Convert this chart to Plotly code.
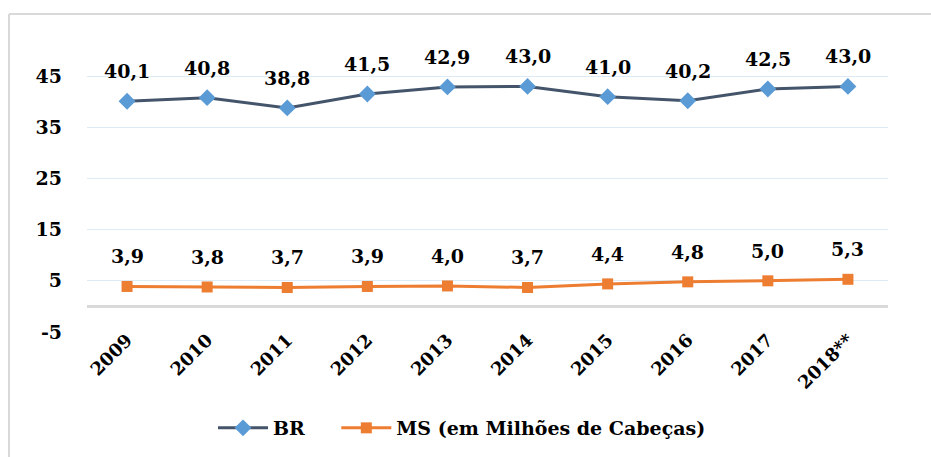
import plotly.graph_objects as go

years = ["2009", "2010", "2011", "2012", "2013", "2014", "2015", "2016", "2017", "2018**"]
br = [40.1, 40.8, 38.8, 41.5, 42.9, 43.0, 41.0, 40.2, 42.5, 43.0]
ms = [3.9, 3.8, 3.7, 3.9, 4.0, 3.7, 4.4, 4.8, 5.0, 5.3]
y_ticks = [-5, 5, 15, 25, 35, 45]

FONT = "DejaVu Serif"
W, H = 931, 457
L, R, T, B = 87, 43, 25, 125

fig = go.Figure()
fig.add_trace(go.Scatter(
    x=years, y=br, name="BR\u00a0\u00a0\u00a0\u00a0", mode="lines+markers",
    line=dict(color="#44546A", width=3),
    marker=dict(symbol="diamond", size=13, color="#5B9BD5"),
))
fig.add_trace(go.Scatter(
    x=years, y=ms, name="MS (em Milhões de Cabeças)", mode="lines+markers",
    line=dict(color="#ED7D31", width=3),
    marker=dict(symbol="square", size=11, color="#ED7D31"),
))

def fmt(v):
    return f"{v:.1f}".replace(".", ",")

annotations = []
for series in (br, ms):
    for i, v in enumerate(series):
        annotations.append(dict(
            x=i, y=v, xref="x", yref="y", text=fmt(v), showarrow=False, yshift=30,
            font=dict(family=FONT, size=19, color="#000000", weight="bold"),
        ))

pw = W - L - R
ph = H - T - B
def px_x(p):
    return (p - L) / pw
def px_y(p):
    return (H - B - p) / ph

shapes = [
    dict(type="line", xref="paper", yref="paper", x0=px_x(9), x1=px_x(940), y0=px_y(14), y1=px_y(14),
         line=dict(color="#D9D9D9", width=2)),
    dict(type="line", xref="paper", yref="paper", x0=px_x(9), x1=px_x(9), y0=px_y(14), y1=px_y(470),
         line=dict(color="#D9D9D9", width=2)),
]

fig.update_layout(
    width=W, height=H,
    margin=dict(l=L, r=R, t=T, b=B, autoexpand=False),
    paper_bgcolor="white", plot_bgcolor="white",
    showlegend=True,
    legend=dict(orientation="h", x=px_x(213), xanchor="left", y=px_y(428), yanchor="middle",
                font=dict(family=FONT, size=19, color="#000000", weight="bold"),
                itemwidth=50, tracegroupgap=0),
    annotations=annotations,
    shapes=shapes,
    xaxis=dict(
        type="category", range=[-0.5, 9.5], showgrid=False, showline=False, ticks="",
        automargin=False, ticklabelstandoff=-7,
        tickangle=-45, tickfont=dict(family=FONT, size=18, color="#000000", weight="bold"),
    ),
    yaxis=dict(
        range=[-5, 55], tickvals=y_ticks, ticktext=[str(v) for v in y_ticks],
        showgrid=True, gridcolor="#DDEBF7", gridwidth=1,
        zeroline=True, zerolinecolor="#D9D9D9", zerolinewidth=3,
        showline=False, ticks="", ticklabelstandoff=24, automargin=False,
        tickfont=dict(family=FONT, size=19, color="#000000", weight="bold"),
    ),
)

fig.write_html("out.html", config={"displayModeBar": False},
               post_script="document.body.style.margin='0';")
